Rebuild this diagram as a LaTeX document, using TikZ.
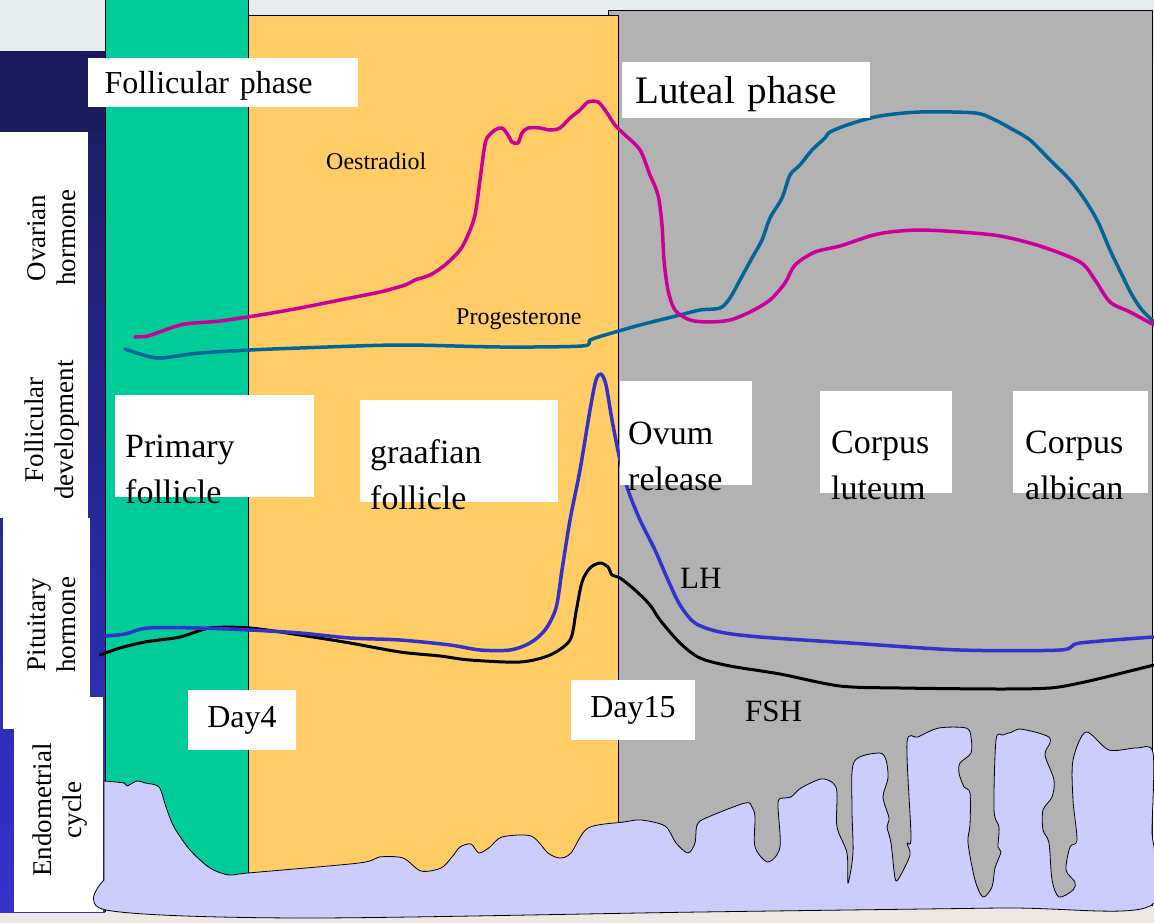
\documentclass[tikz,border=0pt]{standalone}
\usepackage{fontspec}
\setmainfont{Liberation Serif}
\definecolor{navy}{HTML}{1B1B5E}
\definecolor{blu}{HTML}{3333CC}
\definecolor{grn}{HTML}{00CC99}
\definecolor{org}{HTML}{FFCC66}
\definecolor{gry}{HTML}{B2B2B2}
\definecolor{endo}{HTML}{CCCCFF}
\definecolor{mag}{HTML}{CC0099}
\definecolor{teal}{HTML}{006699}
\definecolor{topbg}{HTML}{E6EBEE}
\definecolor{botbg}{HTML}{EEE8E4}
\tikzset{
 lbl/.style={fill=white,inner sep=0pt,align=left,anchor=north west,text depth=0pt},
 side/.style={fill=white,inner sep=0pt},
 vt/.style={rotate=90,font=\fontsize{27}{30}\selectfont,align=center},
 crv/.style={line width=3.5pt,line join=round,line cap=round},
 plain/.style={inner sep=0pt,anchor=base west}
}
\begin{document}
\begin{tikzpicture}[x=1pt,y=-1pt]
\useasboundingbox (0,0) rectangle (1154,923);
\fill[topbg] (0,0) rectangle (1154,60);
\fill[botbg] (0,905) rectangle (1154,923);
% left column
\shade[top color=navy,bottom color=blu] (0,52) rectangle (105,912);
\fill[navy] (0,52) rectangle (105,132);
\node[side,minimum width=88pt,minimum height=386pt,anchor=north west] (bA) at (0,132) {};
\node[side,minimum width=87pt,minimum height=211pt,anchor=north west] (bB) at (3,518) {};
\node[side,minimum width=89pt,minimum height=215pt,anchor=north west] (bC) at (14,697) {};
\node[vt] (t1) at (52,238) {Ovarian\\hormone};
\node[vt] (t2) at (52,430) {Follicular\\development};
\node[vt] (t3) at (52,625) {Pituitary\\hormone};
\node[vt] (t4) at (60,810) {Endometrial\\cycle};
% phases
\draw[fill=gry,line width=0.8pt] (608,10) rectangle (1152,905);
\draw[fill=org,line width=0.8pt] (248,15) rectangle (618,880);
\draw[fill=grn,line width=0.8pt] (105,0) -- (105,912) (105,0) rectangle (248,880);
\fill[grn] (105.5,0) rectangle (247.5,880);
\draw[line width=0.8pt] (105,0) -- (105,912) (248,0)--(248,880);
% endometrium
\draw[fill=endo,line width=0.8pt,smooth] plot coordinates {(104,781)(124,783)(127,786)(137,781)(145,783)(159,787)(166,807)(174,827)(190,850)(210,868)(229,875)(248,873)(359,863)(379,857)(403,858)(421,871)(441,868)(452,857)(460,847)(471,844)(479,853)(490,847)(502,837)(531,836)(548,853)(560,858)(571,853)(588,828)(624,822)(641,820)(665,826)(676,843)(688,853)(695,843)(697,825)(706,818)(745,803)(752,807)(755,817)(755,847)(768,862)(780,847)(778,803)(784,798)(791,797)(801,788)(821,779)(833,783)(837,793)(837,827)(847,853)(848,883)(853,853)(852,808)(854,762)(879,753)(886,760)(888,778)(883,797)(889,818)(887,827)(891,843)(895,878)(899,878)(910,855)(907,843)(911,837)(907,743)(918,737)(939,728)(966,728)(971,737)(971,753)(960,763)(959,773)(964,787)(970,793)(970,825)(968,843)(975,880)(983,897)(992,887)(995,868)(1001,852)(998,847)(999,827)(994,810)(996,740)(1003,735)(1012,732)(1019,729)(1035,732)(1049,737)(1050,743)(1045,755)(1054,780)(1052,797)(1043,810)(1043,830)(1049,843)(1052,880)(1059,897)(1073,890)(1075,882)(1066,870)(1070,847)(1077,840)(1073,800)(1073,760)(1086,732)(1109,750)(1137,748)(1153,753)(1152,830)(1150,906)(1000,908)(700,912)(300,918)(106,910)(104,880)} -- cycle;
% curves
\draw[crv,teal,smooth] plot coordinates {(125,349)(140,354)(160,358)(200,353)(250,350)(300,348)(400,345)(500,347)(582,346)(590,340)(605,335)(640,325)(680,315)(700,310)(720,308)(730,298)(740,280)(752,258)(762,240)(770,218)(782,198)(790,175)(800,165)(812,150)(825,138)(830,132)(850,124)(880,116)(920,112)(975,113)(995,120)(1010,128)(1030,140)(1050,160)(1070,180)(1085,200)(1098,222)(1110,250)(1122,275)(1132,295)(1142,310)(1154,322)};
\draw[crv,mag,smooth] plot coordinates {(135,337)(148,336)(165,330)(185,324)(220,321)(260,315)(300,308)(340,300)(380,292)(405,285)(415,280)(430,275)(445,265)(460,250)(468,235)(475,215)(480,180)(484,150)(487,138)(495,130)(502,128)(508,135)(512,142)(518,143)(522,133)(528,128)(540,128)(550,130)(560,128)(570,118)(580,110)(588,102)(598,102)(605,110)(615,125)(625,135)(640,150)(650,175)(658,195)(662,225)(664,260)(668,290)(675,310)(690,320)(710,322)(730,320)(750,312)(770,300)(785,283)(795,265)(815,252)(840,246)(870,236)(890,232)(920,230)(960,232)(1000,236)(1040,246)(1080,262)(1095,280)(1110,302)(1130,312)(1154,325)};
\draw[crv,black,line width=3pt,smooth] plot coordinates {(100,655)(120,648)(145,642)(180,637)(210,628)(250,628)(300,635)(350,643)(400,652)(440,656)(470,660)(520,662)(550,655)(570,640)(576,612)(582,582)(590,568)(600,563)(608,567)(612,575)(620,578)(635,590)(650,605)(660,620)(680,643)(700,658)(730,666)(780,674)(840,686)(900,688)(1000,689)(1050,688)(1080,683)(1110,676)(1154,665)};
\draw[crv,blu,smooth] plot coordinates {(105,636)(125,634)(148,628)(200,628)(250,630)(300,633)(350,638)(400,640)(450,645)(480,650)(510,650)(530,643)(545,630)(556,608)(562,570)(570,520)(580,470)(590,410)(596,380)(601,374)(606,385)(612,420)(620,460)(628,490)(640,520)(655,550)(668,580)(680,605)(695,623)(720,632)(760,637)(850,643)(960,650)(1060,650)(1080,643)(1154,637)};
% labels
\node[lbl,minimum width=270pt,minimum height=49pt,font=\fontsize{32}{34}\selectfont,text width=255pt] (fp) at (88,58) {\hspace*{9pt}Follicular phase};
\node[lbl,minimum width=248pt,minimum height=56pt,font=\fontsize{39}{40}\selectfont,text width=240pt] (lp) at (622,62) {\hspace*{9pt}Luteal phase};
\node[plain,font=\fontsize{24}{26}\selectfont] (oe) at (326,170) {Oestradiol};
\node[plain,font=\fontsize{24}{26}\selectfont] (pg) at (456,324) {Progesterone};
\node[lbl,minimum width=199pt,minimum height=102pt,font=\fontsize{34}{46}\selectfont,inner xsep=10pt,inner ysep=8pt,text width=179pt] (pf) at (115,395) {Primary\\follicle};
\node[lbl,minimum width=198pt,minimum height=102pt,font=\fontsize{34}{46}\selectfont,inner xsep=10pt,inner ysep=8pt,text width=178pt] (gf) at (360,400) {graafian\\follicle};
\node[lbl,minimum width=132pt,minimum height=104pt,font=\fontsize{34}{46}\selectfont,inner xsep=8pt,inner ysep=8pt,text width=116pt] (ov) at (620,381) {Ovum\\release};
\node[lbl,minimum width=132pt,minimum height=102pt,font=\fontsize{34}{46}\selectfont,inner xsep=11pt,inner ysep=8pt,text width=110pt] (cl) at (820,391) {Corpus\\luteum};
\node[lbl,minimum width=135pt,minimum height=102pt,font=\fontsize{34}{46}\selectfont,inner xsep=12pt,inner ysep=8pt,text width=111pt] (ca) at (1013,391) {Corpus\\albican};
\node[plain,font=\fontsize{31}{33}\selectfont] (lh) at (680,588) {LH};
\node[plain,font=\fontsize{31}{33}\selectfont] (fsh) at (745,721) {FSH};
\node[fill=white,minimum width=108pt,minimum height=60pt,inner sep=0pt,font=\fontsize{32}{34}\selectfont] (d4) at (242,720) {Day4};
\node[fill=white,minimum width=124pt,minimum height=60pt,inner sep=0pt,font=\fontsize{32}{34}\selectfont] (d15) at (633,710) {Day15};
\end{tikzpicture}
\end{document}
